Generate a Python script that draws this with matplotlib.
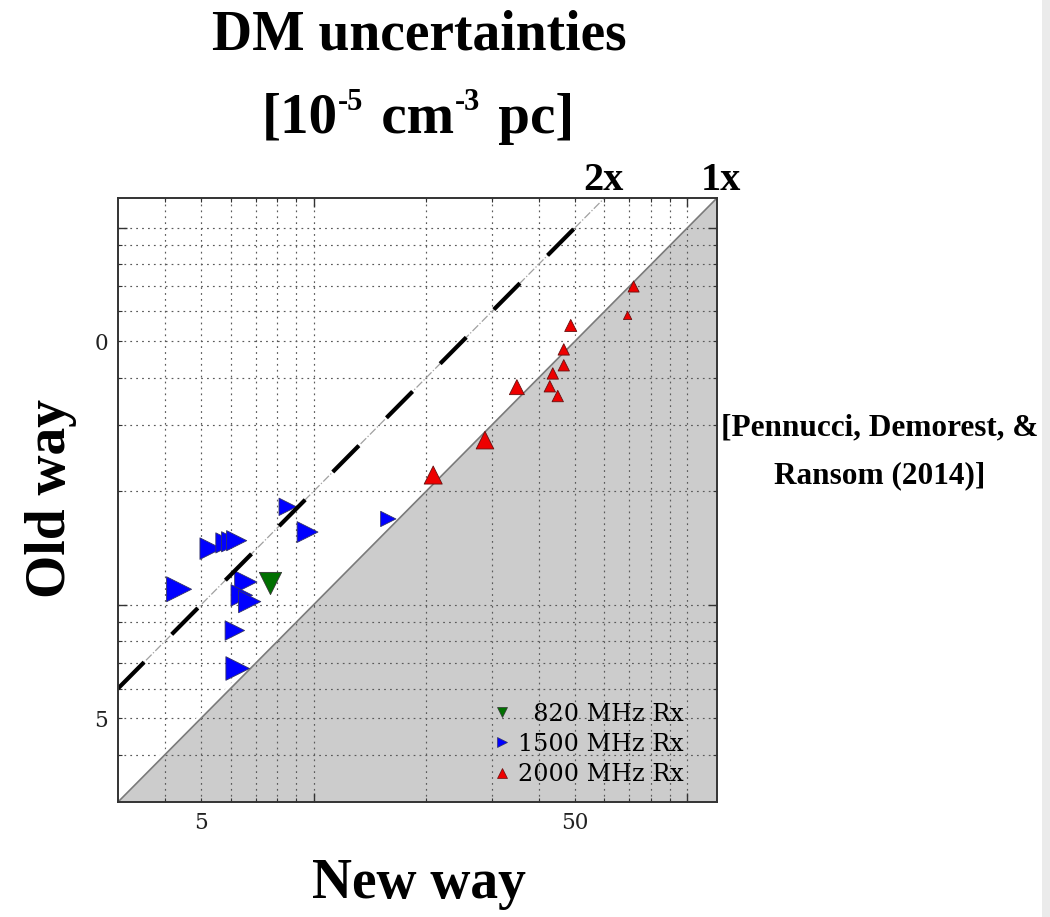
import numpy as np
import matplotlib
matplotlib.use("Agg")
import matplotlib.pyplot as plt
from matplotlib.lines import Line2D
from matplotlib.patches import Polygon, Rectangle
from matplotlib.ticker import FixedLocator, FuncFormatter, NullFormatter
import matplotlib.patheffects as pe

# DM uncertainties [1e-5 cm^-3 pc]: new method (x) vs. old method (y)
rx820_new = [7.63]
rx820_old = [11.45]
rx820_ms = [16]

rx1500_new = [8.53, 9.64, 15.85, 5.31, 5.83, 6.04, 6.23, 4.37, 6.59, 6.43, 6.75, 6.16, 6.27]
rx1500_old = [18.2, 15.6, 16.9, 14.1, 14.6, 14.7, 14.8, 11.0, 11.5, 10.6, 10.2, 8.55, 6.78]
rx1500_ms = [12.5, 15, 11, 15.5, 14.5, 14.5, 14.5, 18, 16, 15.5, 16, 14, 17]

rx2000_new = [71.8, 69.2, 48.75, 46.7, 46.7, 43.65, 42.85, 45.0, 34.99, 28.75, 20.9]
rx2000_old = [69.9, 58.6, 55.1, 47.6, 43.2, 41.1, 38.0, 35.8, 37.8, 27.35, 22.1]
rx2000_ms = [8, 6, 8.7, 8.2, 8.2, 8.2, 8.2, 8.2, 10.8, 12.7, 13]

legend_labels = ["  820 MHz Rx", "1500 MHz Rx", "2000 MHz Rx"]
axis_range = (3, 120)
ratio_2x_end = 50
xtick_labels = {5: "5", 50: "50"}
ytick_labels = {5: "5", 50: "0"}

W, H = 1050, 917
fig = plt.figure(figsize=(W / 100, H / 100), dpi=100)
fig.patches.append(Rectangle((1042 / W, 0), 8 / W, 1, transform=fig.transFigure,
                             facecolor="#ebebeb", edgecolor="none"))

ax = fig.add_axes([118 / W, 1 - 802 / H, 599 / W, 604 / H])
ax.set_xscale("log")
ax.set_yscale("log")
lo, hi = axis_range
ax.set_xlim(lo, hi)
ax.set_ylim(lo, hi)

# shaded region where the new method does worse
ax.add_patch(Polygon([(lo, lo), (hi, hi), (hi, lo)], closed=True,
                     facecolor="#cccccc", edgecolor="none", zorder=1))

# 1x line
ax.plot([lo, hi], [lo, hi], color="#7a7a7a", lw=1.2, zorder=2,
        path_effects=[pe.Stroke(linewidth=2.6, foreground="white", offset=(-0.8, 0.8)),
                      pe.Normal()])

# markers
ax.scatter(rx1500_new, rx1500_old, s=np.square(rx1500_ms), marker=">",
           facecolor="#0000ff", edgecolor="#333366", linewidths=0.6, zorder=3)
ax.scatter(rx820_new, rx820_old, s=np.square(rx820_ms), marker="v",
           facecolor="#007000", edgecolor="#333333", linewidths=0.6, zorder=3)
ax.scatter(rx2000_new, rx2000_old, s=np.square(rx2000_ms), marker="^",
           facecolor="#ee0000", edgecolor="#661111", linewidths=0.6, zorder=3)

# 2x line: thin dash-dot guide across the full range, bold dashes over part of it
ax.plot([lo, hi / 2], [2 * lo, hi], color="#a0a0a0", lw=0.9, ls="-.", zorder=4)
ax.plot([lo, ratio_2x_end], [2 * lo, 2 * ratio_2x_end], color="black", lw=3,
        ls=(0, (8.9, 9.4)), zorder=5)

# ticks and grid
major = [10, 100]
minor = [4, 5, 6, 7, 8, 9, 20, 30, 40, 50, 60, 70, 80, 90]
for axis, labels in ((ax.xaxis, xtick_labels), (ax.yaxis, ytick_labels)):
    axis.set_major_locator(FixedLocator(major))
    axis.set_minor_locator(FixedLocator(minor))
    axis.set_major_formatter(NullFormatter())
    axis.set_minor_formatter(FuncFormatter(lambda v, p, d=labels: d.get(int(round(v)), "")))
ax.tick_params(which="both", direction="in", top=True, right=True, color="#333333",
               pad=7, labelsize=15.5)
ax.tick_params(which="major", length=6.5, width=1.0)
ax.tick_params(which="minor", length=3, width=0.8)
for lab in ax.get_xticklabels(minor=True) + ax.get_yticklabels(minor=True):
    lab.set_family("DejaVu Serif")
    lab.set_color("#222222")
ax.grid(True, which="both", color="#5a5a5a", lw=0.85, ls=(0, (1.5, 3.5)))
for sp in ax.spines.values():
    sp.set_linewidth(1.4)
    sp.set_color("#333333")
    sp.set_zorder(6)

# legend
handles = [
    Line2D([], [], ls="", marker="v", ms=6.5, mfc="#007000", mec="#333333", mew=0.5),
    Line2D([], [], ls="", marker=">", ms=6.5, mfc="#0000ff", mec="#333366", mew=0.5),
    Line2D([], [], ls="", marker="^", ms=6.5, mfc="#ee0000", mec="#661111", mew=0.5),
]
ax.legend(handles, legend_labels, loc="lower right",
          bbox_to_anchor=((684 - 118) / 599, (802 - 786) / 604),
          frameon=False, borderpad=0, borderaxespad=0, handlelength=0.6,
          handletextpad=0.4, labelspacing=0.3, numpoints=1,
          prop={"family": "DejaVu Serif", "size": 17.2})

# text annotations
bold_serif = {"family": "Liberation Serif", "weight": "bold", "color": "black"}


def ftext(x, y, s, **kw):
    return fig.text(x / W, 1 - y / H, s, **kw)


ftext(419, 49, "DM uncertainties", ha="center", va="baseline", size=40, **bold_serif)

# units line with small raised exponents, laid out piece by piece
renderer = fig.canvas.get_renderer()
pieces = [("[10", 41, 0), ("-5", 22, 23), (" cm", 41, 0), ("-3", 22, 23), (" pc]", 41, 0)]
widths = []
for s, size, _ in pieces:
    t = ftext(0, 0, s, size=size, **bold_serif)
    widths.append(t.get_window_extent(renderer).width)
    t.remove()
gap = 4
x0 = 418 - (sum(widths) + 2 * gap) / 2
for i, ((s, size, rise), w) in enumerate(zip(pieces, widths)):
    ftext(x0, 133 - rise, s, ha="left", va="baseline", size=size, **bold_serif)
    x0 += w + (gap if rise else 0)

ftext(51, 498, "Old way", ha="center", va="center", rotation=90, size=40, **bold_serif)
ftext(419, 898, "New way", ha="center", va="baseline", size=40, **bold_serif)
ftext(603, 190, "2x", ha="center", va="baseline", size=29, **bold_serif)
ftext(721, 190, "1x", ha="center", va="baseline", size=29, **bold_serif)
ftext(880, 435, "[Pennucci, Demorest, &", ha="center", va="baseline", size=22.5, **bold_serif)
ftext(880, 483, "Ransom (2014)]", ha="center", va="baseline", size=22.5, **bold_serif)

fig.savefig("out.png", dpi=100)
